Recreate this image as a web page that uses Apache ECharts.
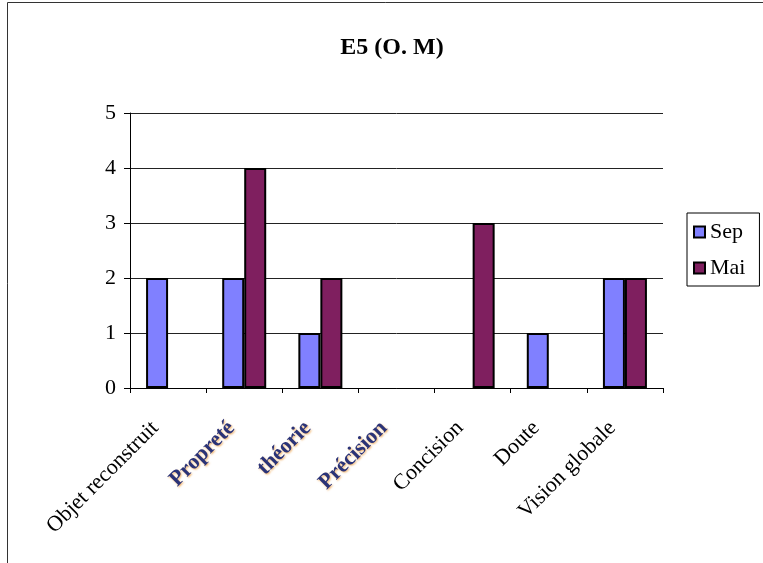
<!DOCTYPE html>
<html>
<head>
<meta charset="utf-8">
<script src="https://cdn.jsdelivr.net/npm/echarts@6/dist/echarts.min.js"></script>
<style>
  html, body { margin: 0; padding: 0; background: #fff; }
  #chart { width: 763px; height: 563px; }
</style>
</head>
<body>
<div id="chart"></div>
<script>
// Scores per criterion, September vs May
const categories = ['Objet reconstruit', 'Propreté', 'théorie', 'Précision', 'Concision', 'Doute', 'Vision globale'];
const sepValues = [2, 2, 1, 0, 0, 1, 2];
const maiValues = [0, 4, 2, 0, 3, 0, 2];
const yTicks = [0, 1, 2, 3, 4, 5];
const seriesNames = ['Sep', 'Mai'];
const chartTitle = 'E5 (O. M)';

// Criteria whose labels are drawn in the fuzzy blue/orange style
const fuzzyLabels = ['Propreté', 'théorie', 'Précision'];

const FONT = '"Liberation Serif", "Times New Roman", serif';

// Zero scores draw no mark at all (no flat outline at the baseline)
function toBarData(values) {
  return values.map(v => v === 0 ? { value: 0, itemStyle: { borderWidth: 0 } } : v);
}

const chart = echarts.init(document.getElementById('chart'), null, { renderer: 'canvas' });

chart.setOption({
  backgroundColor: '#ffffff',
  animation: false,
  title: {
    text: chartTitle,
    left: 387,
    top: 31,
    textAlign: 'center',
    textStyle: { fontFamily: FONT, fontWeight: 'bold', fontSize: 24, color: '#000' }
  },
  graphic: [{
    type: 'rect',
    shape: { x: 7.5, y: 2.5, width: 820, height: 620 },
    style: { fill: 'none', stroke: '#333', lineWidth: 1 },
    silent: true,
    z: -1
  }],
  legend: {
    orient: 'vertical',
    left: 687,
    top: 213,
    data: seriesNames,
    icon: 'rect',
    itemWidth: 11,
    itemHeight: 11,
    itemGap: 14,
    padding: [8, 14, 7, 6],
    borderColor: '#000',
    borderWidth: 1,
    backgroundColor: '#fff',
    textStyle: { fontFamily: FONT, fontSize: 22, color: '#000' }
  },
  grid: { left: 130, right: 100, top: 113, bottom: 175, containLabel: false },
  xAxis: {
    type: 'category',
    data: categories,
    boundaryGap: true,
    axisLine: { lineStyle: { color: '#000', width: 1 } },
    axisTick: { show: true, length: 5, inside: false, lineStyle: { color: '#000' } },
    axisLabel: {
      interval: 0,
      rotate: 45,
      margin: 24,
      padding: [0, 18, 0, 0],
      fontFamily: FONT,
      fontSize: 22,
      color: '#000',
      formatter: function (val) {
        return fuzzyLabels.indexOf(val) >= 0 ? '{fz|' + val + '}' : val;
      },
      rich: {
        fz: {
          fontFamily: FONT,
          fontSize: 22,
          fontWeight: 'bold',
          color: '#2a3378',
          textShadowColor: 'rgba(235,150,50,0.75)',
          textShadowBlur: 2,
          textShadowOffsetX: 1,
          textShadowOffsetY: 1
        }
      }
    }
  },
  yAxis: {
    type: 'value',
    min: yTicks[0],
    max: yTicks[yTicks.length - 1],
    interval: 1,
    axisLine: { show: true, lineStyle: { color: '#000', width: 1 } },
    axisTick: { show: true, length: 6, inside: false, lineStyle: { color: '#000' } },
    axisLabel: { margin: 14, fontFamily: FONT, fontSize: 22, color: '#000' },
    splitLine: { show: true, lineStyle: { color: '#222', width: 1 } }
  },
  series: [
    {
      name: seriesNames[0],
      type: 'bar',
      data: toBarData(sepValues),
      barWidth: 22,
      barGap: '0%',
      itemStyle: { color: '#8080FF', borderColor: '#000', borderWidth: 2 }
    },
    {
      name: seriesNames[1],
      type: 'bar',
      data: toBarData(maiValues),
      barWidth: 22,
      barGap: '0%',
      itemStyle: { color: '#7F1F5F', borderColor: '#000', borderWidth: 2 }
    }
  ]
});
</script>
</body>
</html>
